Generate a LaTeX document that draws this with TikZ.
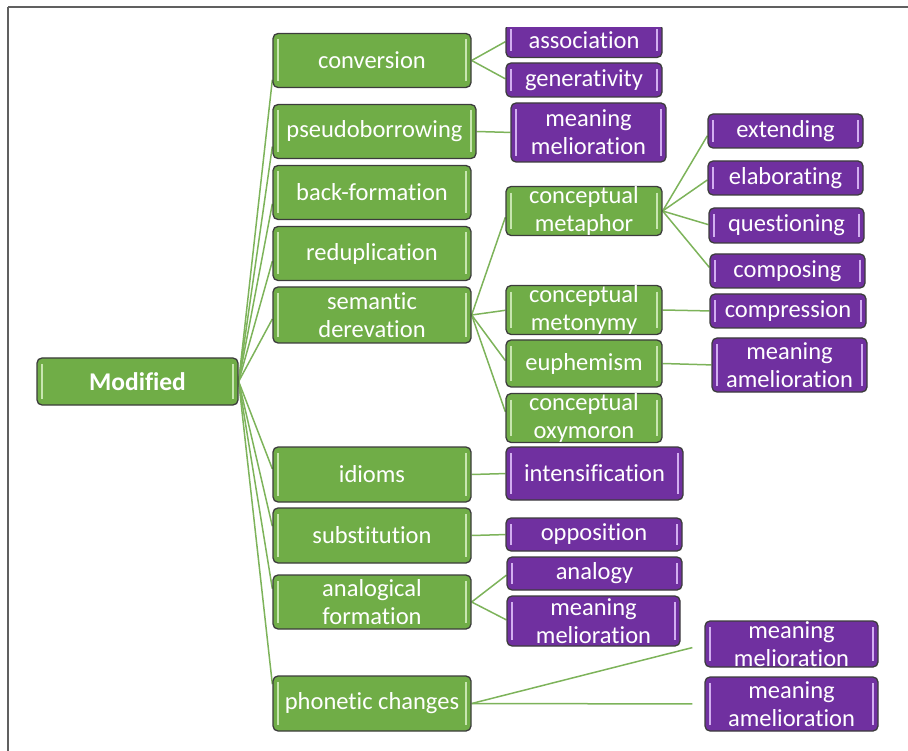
\documentclass[tikz,border=0pt]{standalone}
\usepackage{fontspec}
\setmainfont[Ligatures={NoCommon}]{Carlito}
\usetikzlibrary{calc,backgrounds}
\definecolor{gfill}{HTML}{70AD47}
\definecolor{gbevel}{HTML}{C8E6B0}
\definecolor{pfill}{HTML}{7030A0}
\definecolor{pbevel}{HTML}{D2AEF0}
\definecolor{edgecol}{HTML}{3C3C3C}
\definecolor{conncol}{HTML}{7DB35A}
\definecolor{framecol}{HTML}{606060}
\tikzset{
  boxbase/.style={draw=edgecol, line width=1.3pt, rounded corners=5pt, text=white,
    align=center, inner sep=0pt, font=\fontsize{24.5}{28}\selectfont},
  gbox/.style={boxbase, fill=gfill, path picture={
    \draw[gbevel, line width=1.6pt] ([shift={(5pt,-6pt)}]path picture bounding box.north west) -- ([shift={(5pt,6pt)}]path picture bounding box.south west);
    \draw[gbevel, line width=1.6pt] ([shift={(-5pt,-6pt)}]path picture bounding box.north east) -- ([shift={(-5pt,6pt)}]path picture bounding box.south east);}},
  pbox/.style={boxbase, fill=pfill, path picture={
    \draw[pbevel, line width=1.6pt] ([shift={(5pt,-6pt)}]path picture bounding box.north west) -- ([shift={(5pt,6pt)}]path picture bounding box.south west);
    \draw[pbevel, line width=1.6pt] ([shift={(-5pt,-6pt)}]path picture bounding box.north east) -- ([shift={(-5pt,6pt)}]path picture bounding box.south east);}},
  conn/.style={draw=conncol, line width=1.5pt},
  frameline/.style={draw=framecol, line width=2pt}
}
\newcommand\lnk[2]{\draw[conn] (#1.east) -- ($(#2.west)!0.06!(#2.west |- #1.east)$);}
\begin{document}
\begin{tikzpicture}[x=1pt,y=-1pt]
\useasboundingbox (0,0) rectangle (908,751);
\draw[frameline] (8,7) -- (908,7);
\draw[frameline] (8,7) -- (8,751);

% root
\node[gbox, minimum width=201pt, minimum height=47pt, font=\fontsize{25.5}{28}\selectfont\bfseries] (mod) at (137.5,381.5) {Modified};

% level 1
\node[gbox, minimum width=198pt, minimum height=54pt] (conv)   at (372,60.5)  {conversion};
\node[gbox, minimum width=203pt, minimum height=54pt] (pseudo) at (374.5,131.5) {pseudoborrowing};
\node[gbox, minimum width=198pt, minimum height=54pt] (back)   at (372,192.5) {back-formation};
\node[gbox, minimum width=198pt, minimum height=54pt] (redup)  at (372,253.5) {reduplication};
\node[gbox, minimum width=198pt, minimum height=56pt] (sem)    at (372,315)   {semantic\\derevation};
\node[gbox, minimum width=198pt, minimum height=55pt] (idioms) at (372,474.5) {idioms};
\node[gbox, minimum width=198pt, minimum height=55pt] (subst)  at (372,535.5) {substitution};
\node[gbox, minimum width=198pt, minimum height=54pt] (analog) at (372,602)   {analogical\\formation};
\node[gbox, minimum width=198pt, minimum height=55pt] (phon)   at (372,703.5) {phonetic changes};

% level 2 (green)
\node[gbox, minimum width=156pt, minimum height=48pt] (metaphor) at (584,211)   {conceptual\\metaphor};
\node[gbox, minimum width=156pt, minimum height=48pt] (metonymy) at (584,310)   {conceptual\\metonymy};
\node[gbox, minimum width=156pt, minimum height=47pt] (euph)     at (584,363.5) {euphemism};
\node[gbox, minimum width=156pt, minimum height=48pt] (oxym)     at (584,418)   {conceptual\\oxymoron};

% purple
\begin{scope}
\clip (490,28) rectangle (680,70);
\node[pbox, minimum width=156pt, minimum height=34pt] (assoc) at (584,40.5) {association};
\end{scope}
\node[pbox, minimum width=156pt, minimum height=34pt] (gen)   at (584,80)    {generativity};
\node[pbox, minimum width=155pt, minimum height=59pt] (mmA)   at (588.5,132.5) {meaning\\melioration};
\node[pbox, minimum width=155pt, minimum height=34pt] (ext)   at (785.5,131) {extending};
\node[pbox, minimum width=155pt, minimum height=34pt] (elab)  at (785.5,178) {elaborating};
\node[pbox, minimum width=155pt, minimum height=35pt] (quest) at (786.5,225.5) {questioning};
\node[pbox, minimum width=155pt, minimum height=34pt] (comp)  at (787.5,271) {composing};
\node[pbox, minimum width=156pt, minimum height=34pt] (compr) at (788,311)   {compression};
\node[pbox, minimum width=155pt, minimum height=54pt] (maA)   at (789.5,365) {meaning\\amelioration};
\node[pbox, minimum width=177pt, minimum height=53pt] (intens) at (594.5,473.5) {intensification};
\node[pbox, minimum width=176pt, minimum height=33pt] (oppos) at (594,534.5) {opposition};
\node[pbox, minimum width=175pt, minimum height=33pt] (analogy) at (594.5,573.5) {analogy};
\node[pbox, minimum width=173pt, minimum height=50pt] (mmB)   at (593.5,621) {meaning\\melioration};
\node[pbox, minimum width=173pt, minimum height=46pt] (mmC)   at (791.5,644) {meaning\\melioration};
\node[pbox, minimum width=173pt, minimum height=54pt] (maB)   at (791.5,704) {meaning\\amelioration};

\begin{scope}[on background layer]
\lnk{mod}{conv}
\lnk{mod}{pseudo}
\lnk{mod}{back}
\lnk{mod}{redup}
\lnk{mod}{sem}
\lnk{mod}{idioms}
\lnk{mod}{subst}
\lnk{mod}{analog}
\lnk{mod}{phon}
\lnk{conv}{assoc}
\lnk{conv}{gen}
\lnk{pseudo}{mmA}
\lnk{sem}{metaphor}
\lnk{sem}{metonymy}
\lnk{sem}{euph}
\lnk{sem}{oxym}
\lnk{metaphor}{ext}
\lnk{metaphor}{elab}
\lnk{metaphor}{quest}
\lnk{metaphor}{comp}
\lnk{metonymy}{compr}
\lnk{euph}{maA}
\lnk{idioms}{intens}
\lnk{subst}{oppos}
\lnk{analog}{analogy}
\lnk{analog}{mmB}
\draw[conn] (phon.east) -- ($([xshift=-12pt]mmC.west)!0.06!([xshift=-12pt]mmC.west |- phon.east)$);
\draw[conn] (phon.east) -- ($([xshift=-12pt]maB.west)!0.06!([xshift=-12pt]maB.west |- phon.east)$);
\end{scope}
\end{tikzpicture}
\end{document}
